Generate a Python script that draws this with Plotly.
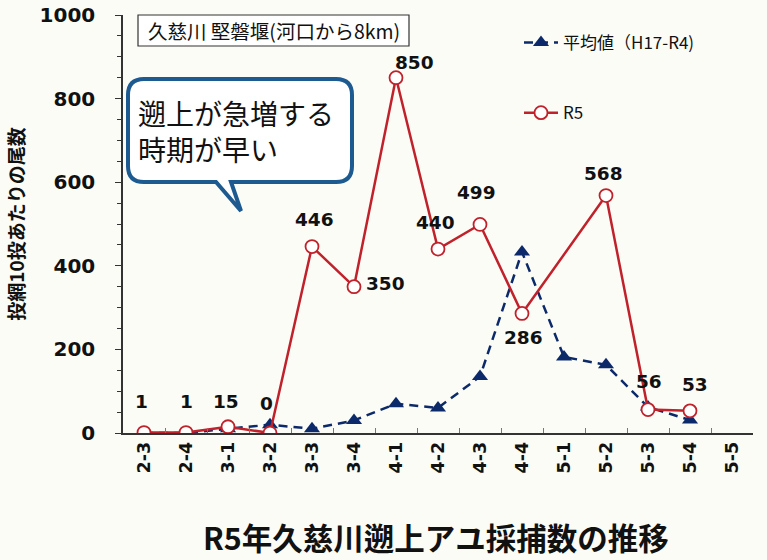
import plotly.graph_objects as go

categories = ["2-3", "2-4", "3-1", "3-2", "3-3", "3-4", "4-1", "4-2", "4-3", "4-4", "5-1", "5-2", "5-3", "5-4", "5-5"]
avg_values = [0, 0, 10, 20, 10, 30, 70, 60, 135, 433, 182, 163, 62, 31, None]
r5_values = [1, 1, 15, 0, 446, 350, 850, 440, 499, 286, None, 568, 56, 53, None]
r5_labels = ["1", "1", "15", "0", "446", "350", "850", "440", "499", "286", "", "568", "56", "53", ""]
# per-label pixel offsets (style)
label_shift = [(-3, 31), (0, 31), (-2, 25), (-4, 30), (2, 27), (31, 3), (18, 15), (-3, 27),
               (-4, 32), (1, -24), (0, 0), (-3, 22), (1, 28), (5, 26), (0, 0)]

W, H = 767, 560
L, T = 123, 15
PW, PH = 630, 418
R, B = W - L - PW, H - T - PH

def px(x):
    return (x - 123) / PW

def py(y):
    return (433 - y) / PH

NAVY = "#0c2a69"
RED = "#c0222b"
CJK = "Noto Sans CJK JP"

fig = go.Figure()
fig.add_trace(go.Scatter(
    x=categories, y=avg_values, mode="lines+markers", name="平均値（H17-R4)",
    line=dict(color=NAVY, width=2.5, dash="9px,6px"),
    marker=dict(symbol="triangle-up", size=14, color=NAVY),
    legendgroup="a", connectgaps=False,
))
fig.add_trace(go.Scatter(
    x=categories, y=r5_values, mode="lines+markers", name="R5",
    line=dict(color=RED, width=2.5),
    marker=dict(symbol="circle", size=13, color="white", line=dict(color=RED, width=1.8)),
    legendgroup="b", connectgaps=True,
))

anns = []
for c, v, t, (dx, dy) in zip(categories, r5_values, r5_labels, label_shift):
    if v is None or t == "":
        continue
    anns.append(dict(x=c, y=v, xref="x", yref="y", text=t, showarrow=False,
                     xshift=dx, yshift=dy, xanchor="center", yanchor="middle",
                     font=dict(family="DejaVu Sans", size=18.5, color="#111111", weight="bold")))

# title box text
anns.append(dict(x=px(274), y=py(31), xref="paper", yref="paper", text="久慈川 堅磐堰(河口から8km)",
                 xanchor="center", yanchor="middle",
                 showarrow=False, font=dict(family=CJK, size=19.5, color="#111111")))
# callout text
anns.append(dict(x=px(136), y=py(131), xref="paper", yref="paper", xanchor="left", yanchor="middle",
                 text="遡上が急増する<br>時期が早い", align="left", showarrow=False,
                 font=dict(family=CJK, size=28, color="#111111")))
# bottom title
anns.append(dict(x=px(436), y=py(537), xref="paper", yref="paper", text="R5年久慈川遡上アユ採捕数の推移",
                 xanchor="center", yanchor="middle",
                 showarrow=False, font=dict(family=CJK, size=30.5, color="#111111", weight="bold")))

shapes = []
shapes.append(dict(type="rect", xref="paper", yref="paper", x0=px(138), x1=px(409), y0=py(46), y1=py(15),
                   line=dict(color="#333333", width=1.2), fillcolor="white", layer="below"))

# callout path
x0, x1, y0, y1, r = 128, 352, 79, 182, 16
pts = [f"M {px(x0+r)},{py(y0)}", f"L {px(x1-r)},{py(y0)}",
       f"Q {px(x1)},{py(y0)} {px(x1)},{py(y0+r)}", f"L {px(x1)},{py(y1-r)}",
       f"Q {px(x1)},{py(y1)} {px(x1-r)},{py(y1)}", f"L {px(231)},{py(y1)}",
       f"L {px(241)},{py(211)}", f"L {px(216)},{py(y1)}", f"L {px(x0+r)},{py(y1)}",
       f"Q {px(x0)},{py(y1)} {px(x0)},{py(y1-r)}", f"L {px(x0)},{py(y0+r)}",
       f"Q {px(x0)},{py(y0)} {px(x0+r)},{py(y0)}", "Z"]
shapes.append(dict(type="path", xref="paper", yref="paper", path=" ".join(pts),
                   line=dict(color="#1d5a90", width=4), fillcolor="white", layer="above"))

fig.update_layout(
    width=W, height=H, margin=dict(l=L, r=R, t=T, b=B, autoexpand=False),
    paper_bgcolor="#fcfcf7", plot_bgcolor="#fcfcf7",
    showlegend=True,
    legend=dict(x=px(519), y=py(25), xanchor="left", yanchor="top", bgcolor="rgba(0,0,0,0)",
                font=dict(family=CJK, size=17, color="#111111"), tracegroupgap=45,
                itemwidth=34),
    annotations=anns, shapes=shapes,
    xaxis=dict(type="category", categoryorder="array", categoryarray=categories,
               range=[-0.5, 14.5], showline=True, linecolor="#333333", linewidth=1.5,
               ticks="inside", tickson="boundaries", ticklen=5, tickcolor="#777777",
               tickangle=-90, showgrid=False, zeroline=False, automargin=False,
               tickfont=dict(family="DejaVu Sans", size=17.5, color="#111111", weight="bold")),
    yaxis=dict(range=[0, 1000], dtick=200, showline=True, linecolor="#333333", linewidth=1.5,
               ticks="outside", ticklen=6, tickcolor="#333333", showgrid=False, zeroline=False,
               minor=dict(dtick=50, ticks="outside", ticklen=4, tickcolor="#333333"),
               ticklabelstandoff=16, automargin=False, ticklabeloverflow="allow",
               tickfont=dict(family="DejaVu Sans", size=20, color="#111111", weight="bold"),
               title=dict(text="投網10投あたりの尾数", standoff=10,
                          font=dict(family=CJK, size=19, color="#111111", weight="bold"))),
)

fig.write_html("out.html", config={"displayModeBar": False},
               post_script="document.body.style.margin='0';document.body.style.overflow='hidden';")
